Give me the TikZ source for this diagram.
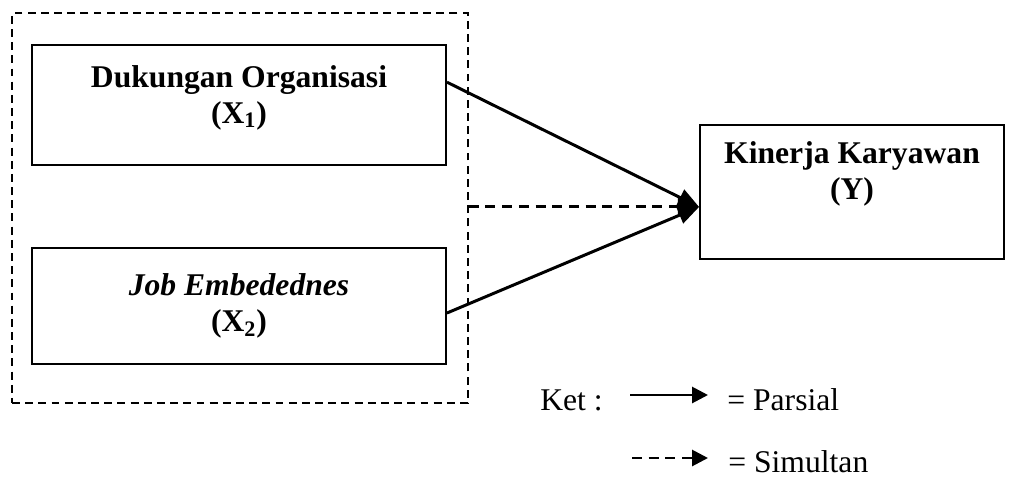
\documentclass[tikz,border=0pt]{standalone}
\usepackage{fontspec}
\setmainfont{Liberation Serif}
\usetikzlibrary{arrows.meta,positioning}

\begin{document}
\begin{tikzpicture}[
        x=0.02cm, y=-0.02cm,
        box/.style={rectangle, draw, line width=1.1pt, align=center, inner sep=0pt,
                    font=\fontsize{18}{20.5}\selectfont\bfseries},
        group/.style={rectangle, draw, line width=0.9pt, dash pattern=on 4.5pt off 3pt,
                      minimum width=9.12cm, minimum height=7.8cm},
        line/.style={draw, line width=1.7pt, -{Triangle[length=12pt,width=10pt]}},
        dline/.style={line, dash pattern=on 5.7pt off 3.8pt},
        key/.style={line width=1.6pt, -{Triangle[length=9pt,width=9pt]}},
        legend/.style={font=\fontsize{18}{20.5}\selectfont, inner sep=0pt, anchor=base west}
    ]
    \useasboundingbox (0,0) rectangle (1010,477);

    \node [group] (grp) at (240,208) {};
    \node [box, minimum width=8.28cm, minimum height=2.4cm, text depth=12pt] (x1) at (239,105)
        {Dukungan Organisasi\\(X\textsubscript{1})};
    \node [box, minimum width=8.28cm, minimum height=2.32cm] (x2) at (239,306)
        {\textit{Job Embedednes}\\(X\textsubscript{2})};
    \node [box, minimum width=6.08cm, minimum height=2.68cm, text depth=24pt] (y) at (852,192)
        {Kinerja Karyawan\\(Y)};

    \coordinate (meet) at ([yshift=-8.5pt]y.west);

    \draw [line] ([yshift=13pt]x1.east) -- (meet);
    \draw [line] ([yshift=-4pt]x2.east) -- (meet);
    \draw [dline] (grp.east |- meet) -- (meet);

    % Legend
    \node [legend] (ket) at (540,410) {Ket :};
    \coordinate (pa) at (630,395);
    \coordinate (pb) at (708,395);
    \draw [key] (pa) -- (pb);
    \node [legend] (parsial) at (727,410) {= Parsial};
    \coordinate (sa) at (632,458);
    \coordinate (sb) at (708,458);
    \draw [key, dash pattern=on 5.7pt off 3.8pt] (sa) -- (sb);
    \node [legend] (simultan) at (728,472) {= Simultan};
\end{tikzpicture}
\end{document}
